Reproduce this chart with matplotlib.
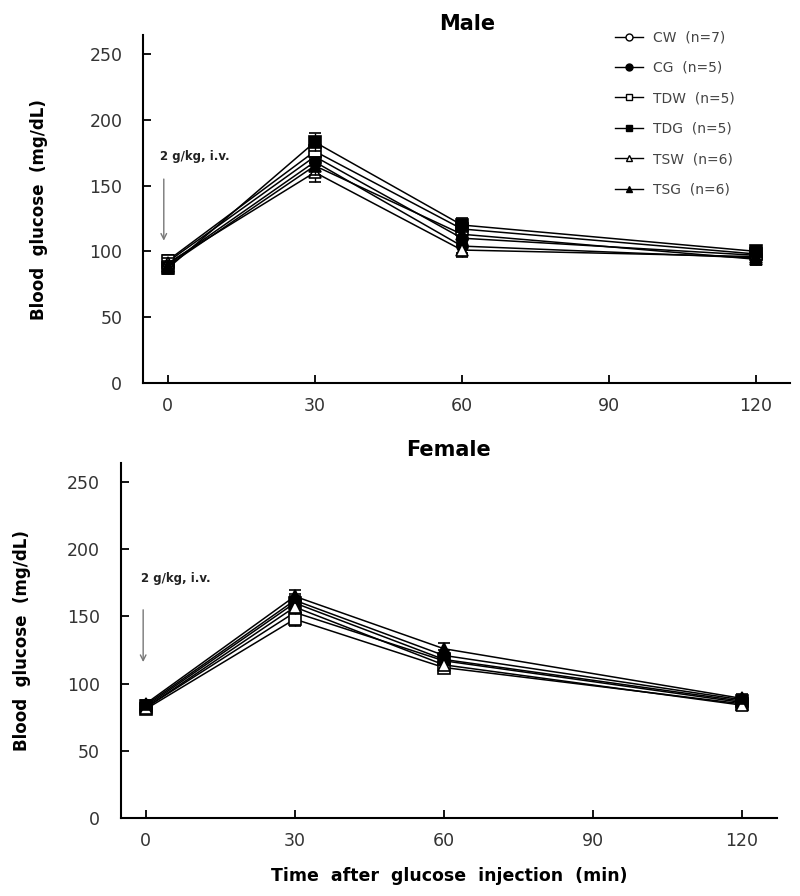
import numpy as np
import matplotlib
matplotlib.use("Agg")
import matplotlib.pyplot as plt
from matplotlib.lines import Line2D

plt.rcParams['font.family'] = ['DejaVu Sans']

# time points (min)
time = [0, 30, 60, 120]

groups = ["CW", "CG", "TDW", "TDG", "TSW", "TSG"]
n_sizes = [7, 5, 5, 5, 6, 6]

# Male blood glucose (mg/dL)
male_CW = [92, 172, 110, 97]
male_CG = [90, 168, 104, 95]
male_TDW = [93, 176, 117, 98]
male_TDG = [87, 183, 120, 100]
male_TSW = [91, 160, 101, 96]
male_TSG = [89, 165, 113, 94]
male_err = [4, 7, 5, 4]

# Female blood glucose (mg/dL)
female_CW = [82, 153, 117, 86]
female_CG = [84, 162, 121, 88]
female_TDW = [81, 148, 112, 85]
female_TDG = [83, 160, 118, 87]
female_TSW = [82, 157, 114, 84]
female_TSG = [85, 165, 126, 89]
female_err = [3, 5, 4, 3]

male = [male_CW, male_CG, male_TDW, male_TDG, male_TSW, male_TSG]
female = [female_CW, female_CG, female_TDW, female_TDG, female_TSW, female_TSG]

markers = ["o", "o", "s", "s", "^", "^"]
fills = ["white", "black", "white", "black", "white", "black"]
msizes = [8, 8, 9, 9, 9, 9]

tick_color = "#333333"


def style_axes(ax, ylabelpad):
    ax.set_xlim(-5, 127)
    ax.set_ylim(0, 264)
    ax.set_xticks([0, 30, 60, 90, 120])
    ax.set_yticks([0, 50, 100, 150, 200, 250])
    ax.spines['top'].set_visible(False)
    ax.spines['right'].set_visible(False)
    ax.spines['left'].set_linewidth(1.5)
    ax.spines['bottom'].set_linewidth(1.5)
    ax.tick_params(direction='in', length=6, width=1.3, labelsize=12.5,
                   labelcolor=tick_color)
    ax.tick_params(axis='y', pad=15)
    ax.tick_params(axis='x', pad=10)
    ax.set_ylabel("Blood  glucose  (mg/dL)", fontsize=12, fontweight='bold',
                  labelpad=ylabelpad)


def draw_panel(ax, data, err):
    for i in range(len(groups)):
        ax.errorbar(time, data[i], yerr=err, color='black', lw=1.1,
                    marker=markers[i], mfc=fills[i], mec='black', mew=1.2,
                    ms=msizes[i], capsize=4, elinewidth=1, zorder=3 + i)


fig = plt.figure(figsize=(8, 8.96), dpi=100)

# ---------------------------------------------------------------
# Male
ax1 = fig.add_axes([0.179, 0.5725, 0.809, 0.388])
draw_panel(ax1, male, male_err)
style_axes(ax1, 30)
ax1.text(0.5, 1.005, "Male", transform=ax1.transAxes, ha='center',
         va='bottom', fontsize=15, fontweight='bold')
ax1.text(-1.5, 172, "2 g/kg, i.v.", fontsize=8.5, fontweight='bold',
         va='center', ha='left', color='#222222')
ax1.annotate("", xy=(-0.8, 106), xytext=(-0.8, 157),
             arrowprops=dict(arrowstyle='->', color='#777777', lw=1))

handles = []
labels = []
for i in range(len(groups)):
    handles.append(Line2D([0], [0], color='black', lw=1, marker=markers[i],
                          mfc=fills[i], mec='black', ms=5))
    labels.append(f"{groups[i]}  (n={n_sizes[i]})")
leg = ax1.legend(handles, labels, frameon=False, loc='upper left',
                 bbox_to_anchor=(0.71, 1.05), fontsize=10,
                 labelspacing=1.18, handlelength=2.0, handletextpad=0.7)
for t in leg.get_texts():
    t.set_color('#444444')

# ---------------------------------------------------------------
# Female
ax2 = fig.add_axes([0.151, 0.087, 0.82, 0.396])
draw_panel(ax2, female, female_err)
style_axes(ax2, 26)
ax2.text(0.5, 1.01, "Female", transform=ax2.transAxes, ha='center',
         va='bottom', fontsize=15, fontweight='bold')
ax2.text(-1.0, 178, "2 g/kg, i.v.", fontsize=8.5, fontweight='bold',
         va='center', ha='left', color='#222222')
ax2.annotate("", xy=(-0.5, 114), xytext=(-0.5, 157),
             arrowprops=dict(arrowstyle='->', color='#777777', lw=1))
ax2.set_xlabel("Time  after  glucose  injection  (min)", fontsize=12.5,
               fontweight='bold', labelpad=12)

fig.savefig("out.png", dpi=100)
